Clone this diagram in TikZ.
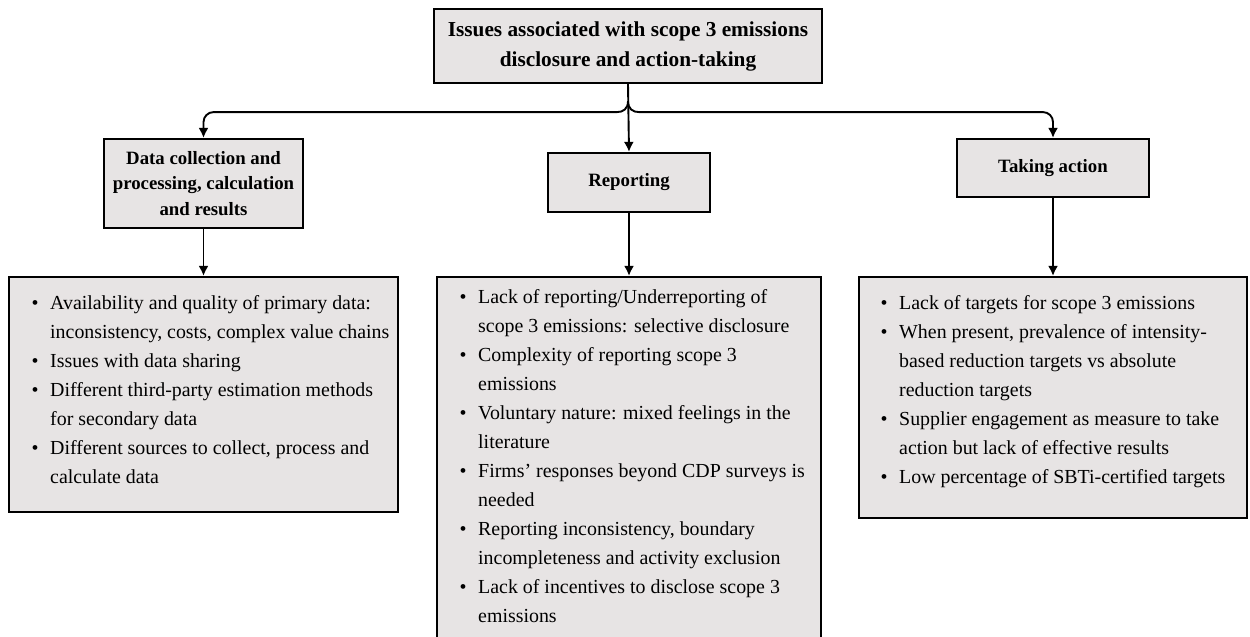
\documentclass[tikz,border=0pt]{standalone}
\usepackage{fontspec}
\setmainfont{Liberation Serif}
\usetikzlibrary{arrows.meta,calc}
\definecolor{boxfill}{RGB}{231,228,228}
% hanging indent for the bullet lists
\newlength\bulw
\setlength\bulw{18.5pt}
\newcommand\bul{\makebox[\bulw][l]{•}}
\newcommand\cnt{\hspace*{\bulw}}
\begin{document}
\begin{tikzpicture}[x=1pt,y=-1pt,
  frame/.style={draw=black,line width=2.2pt,fill=boxfill,inner sep=0pt},
  headbig/.style={font=\bfseries\fontsize{21.3}{30}\selectfont,align=center},
  headsm/.style={font=\bfseries\fontsize{18.8}{25.5}\selectfont,align=center},
  body/.style={font=\fontsize{19.9}{29}\selectfont,align=left,anchor=north west,inner sep=0pt},
  conn/.style={line width=1.9pt,-{Latex[length=10pt,width=10pt]}},
]
\clip (0,0) rectangle (1250,637);

% headings
\node[frame,minimum width=388pt,minimum height=74pt,headbig] (top) at (628,46)
  {Issues associated with scope 3 emissions\\disclosure and action-taking};
\node[frame,minimum width=199pt,minimum height=89pt,headsm] (dc) at (203.5,183.5)
  {Data collection and\\processing, calculation\\and results};
\node[frame,minimum width=162pt,minimum height=59pt,headsm] (rep) at (629,182.5) {Reporting};
\node[frame,minimum width=192pt,minimum height=58pt,headsm] (act) at (1053,168) {Taking action};

% list frames
\node[frame,minimum width=389pt,minimum height=235pt] (dcb) at (203.5,394.5) {};
\node[frame,minimum width=384pt,minimum height=380pt] (repb) at (629,467) {};
\node[frame,minimum width=388pt,minimum height=241pt] (actb) at (1053,397.5) {};

% list texts
\node[body] (dct) at (31.5,295) {%
\bul Availability and quality of primary data:\\
\cnt inconsistency, costs, complex value chains\\
\bul Issues with data sharing\\
\bul Different third-party estimation methods\\
\cnt for secondary data\\
\bul Different sources to collect, process and\\
\cnt calculate data};

\node[body] (rept) at (459.5,289) {%
\bul Lack of reporting/Underreporting of\\
\cnt scope 3 emissions: selective disclosure\\
\bul Complexity of reporting scope 3\\
\cnt emissions\\
\bul Voluntary nature: mixed feelings in the\\
\cnt literature\\
\bul Firms’ responses beyond CDP surveys is\\
\cnt needed\\
\bul Reporting inconsistency, boundary\\
\cnt incompleteness and activity exclusion\\
\bul Lack of incentives to disclose scope 3\\
\cnt emissions};

\node[body] (actt) at (880.5,295) {%
\bul Lack of targets for scope 3 emissions\\
\bul When present, prevalence of intensity-\\
\cnt based reduction targets vs absolute\\
\cnt reduction targets\\
\bul Supplier engagement as measure to take\\
\cnt action but lack of effective results\\
\bul Low percentage of SBTi-certified targets};

% connectors
\coordinate (j) at ($(top.south)+(0,17)$);
\draw[conn] (top.south) -- (rep.north);
\draw[conn] (j) .. controls +(0,8) and +(6,0) .. ++(-11,11) [rounded corners=10pt] -| (dc.north);
\draw[conn] (j) .. controls +(0,8) and +(-6,0) .. ++(11,11) [rounded corners=10pt] -| (act.north);
\draw[conn] (dc.south) -- (dcb.north);
\draw[conn] (rep.south) -- (repb.north);
\draw[conn] (act.south) -- (actb.north);
\end{tikzpicture}
\end{document}
